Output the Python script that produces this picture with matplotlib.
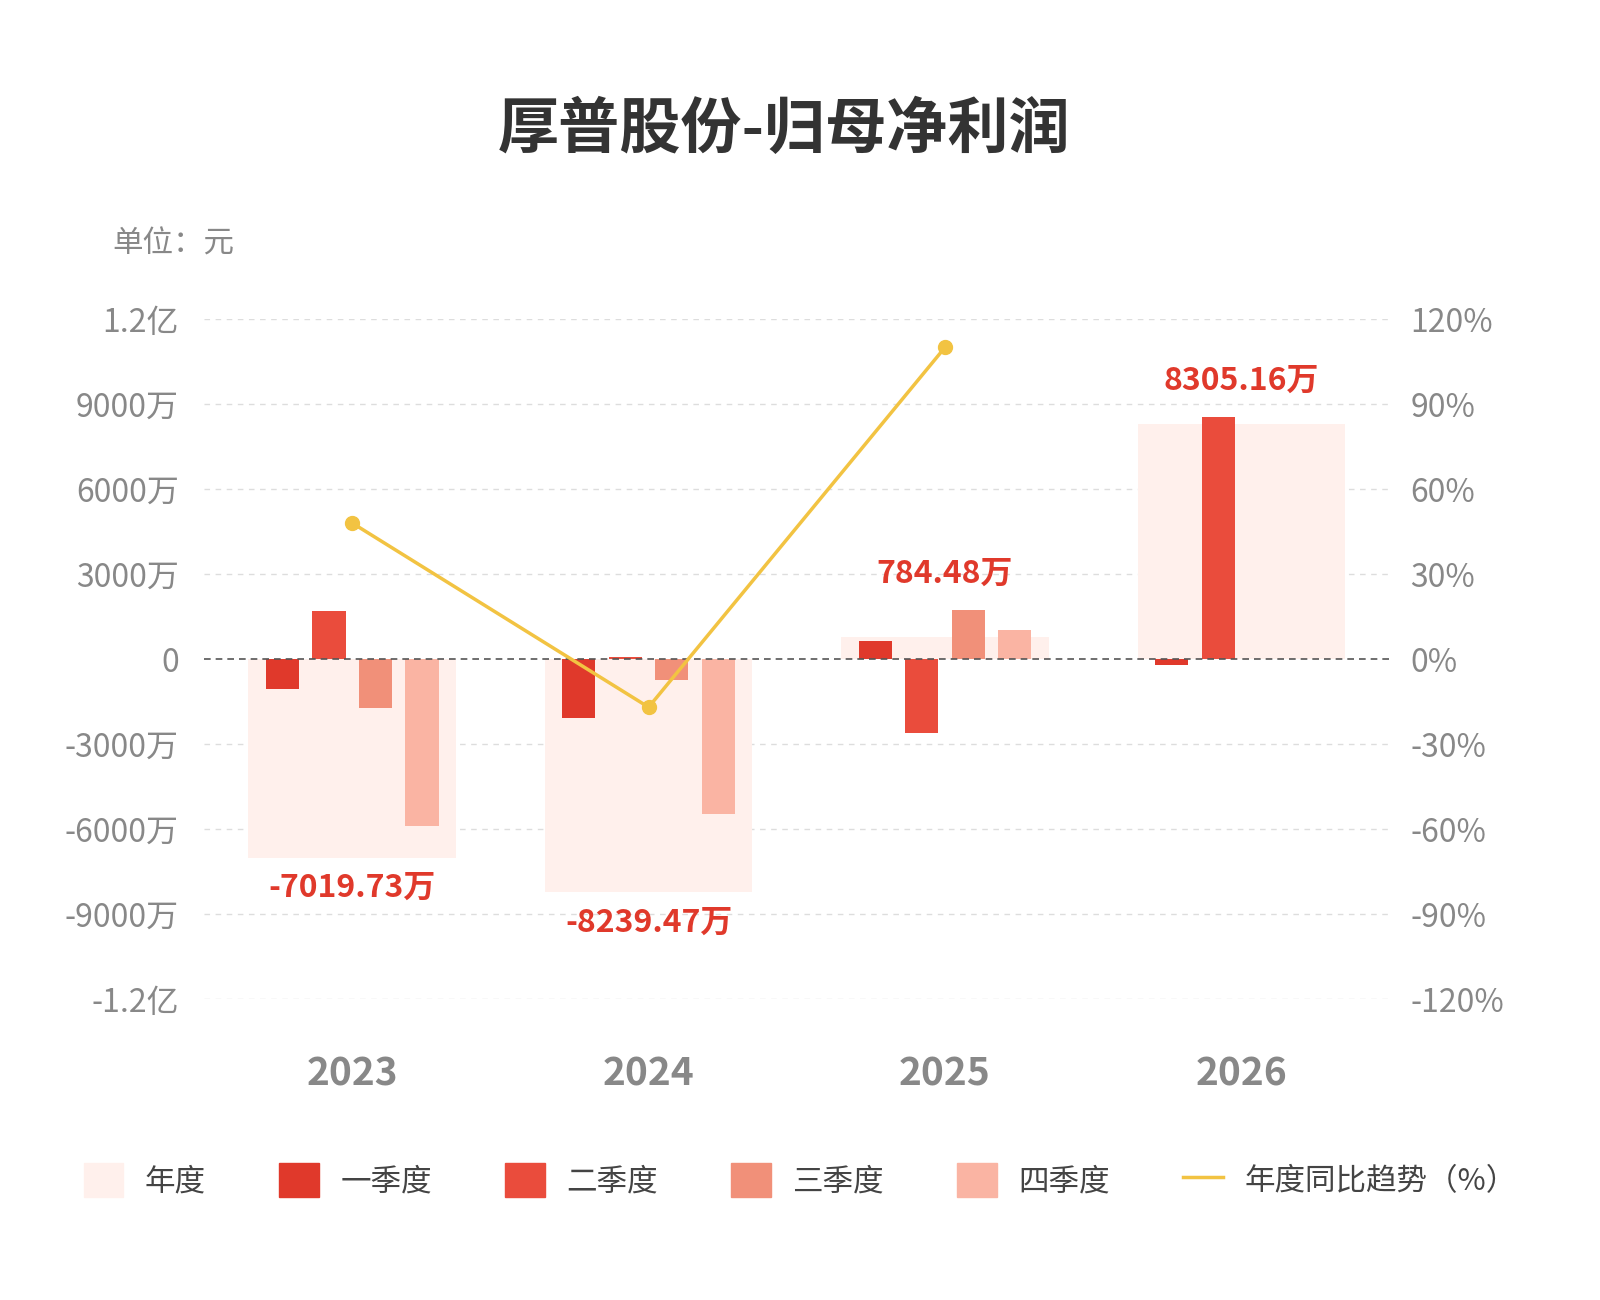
import matplotlib
matplotlib.use('Agg')
import matplotlib.pyplot as plt
import numpy as np
from matplotlib.patches import Patch
from matplotlib.lines import Line2D

plt.rcParams['font.family'] = ['Noto Sans CJK SC', 'DejaVu Sans']

years = ['2023', '2024', '2025', '2026']
annual = [-7019.73, -8239.47, 784.48, 8305.16]  # 万
q1 = [-1060, -2080, 640, -200]
q2 = [1700, 60, -2610, 8540]
q3 = [-1730, -740, 1730, np.nan]
q4 = [-5900, -5470, 1020, np.nan]
yoy = [48, -17, 110]
yoy_years = [0, 1, 2]
annual_labels = ['-7019.73万', '-8239.47万', '784.48万', '8305.16万']

c_year = '#fff0ec'
c_q = ['#e0392b', '#ea4c3c', '#f19079', '#fab4a3']
c_line = '#f2c342'
gray = '#888888'

fig = plt.figure(figsize=(16, 13), dpi=100)
ax = fig.add_axes([0.1275, 0.2315, 0.741, 0.5231])
x = np.arange(len(years))

ax.bar(x, annual, width=0.70, color=c_year, zorder=1)
qs = [q1, q2, q3, q4]
for i, q in enumerate(qs):
    ax.bar(x + (i - 1.5) * 0.157, q, width=0.112, color=c_q[i], zorder=2)

for j, (xi, v, lab) in enumerate(zip(x, annual, annual_labels)):
    vals = [v] + [q[j] for q in qs if not np.isnan(q[j])]
    if v > 0:
        ax.text(xi, max(vals) + 700, lab, ha='center', va='bottom',
                color='#e0392b', fontsize=23, fontweight='bold')
    else:
        ax.text(xi, v - 500, lab, ha='center', va='top',
                color='#e0392b', fontsize=23, fontweight='bold')

ax.set_xlim(-0.5, 3.5)
ax.set_ylim(-12000, 12000)
yt = np.arange(-12000, 12001, 3000)
ax.set_yticks(yt)
def fmt(v):
    if v == 0:
        return '0'
    if abs(v) >= 10000:
        return f'{v/10000:.1f}亿'
    return f'{v}万'
ax.set_yticklabels([fmt(v) for v in yt])
ax.set_xticks(x)
ax.set_xticklabels(years, fontsize=28, fontweight='bold', color=gray)
ax.tick_params(axis='x', length=0, pad=40)
ax.tick_params(axis='y', length=0, labelsize=23, labelcolor=gray, pad=18)
for s in ax.spines.values():
    s.set_visible(False)
for v in yt:
    if v != 0:
        ax.axhline(v, color='#dddddd', lw=1, ls=(0, (4, 4)), zorder=0)
ax.axhline(0, color='#555555', lw=1.2, ls=(0, (4, 3)), zorder=3)

ax2 = ax.twinx()
ax2.set_ylim(-120, 120)
ax2.set_yticks(np.arange(-120, 121, 30))
ax2.set_yticklabels([f'{v}%' for v in np.arange(-120, 121, 30)])
ax2.tick_params(axis='y', length=0, labelsize=23, labelcolor=gray, pad=15)
for s in ax2.spines.values():
    s.set_visible(False)
ax2.plot(yoy_years, yoy, color=c_line, lw=2.5, marker='o', ms=10, zorder=5)

fig.text(0.49, 0.9, '厚普股份-归母净利润', ha='center', va='center',
         fontsize=44, fontweight='bold', color='#333333')
fig.text(0.07, 0.812, '单位：元', fontsize=22, color=gray, va='center')

handles = [Patch(color=c_year)] + [Patch(color=c) for c in c_q] + \
          [Line2D([0], [0], color=c_line, lw=2.5)]
labels = ['年度', '一季度', '二季度', '三季度', '四季度', '年度同比趋势（%）']
fig.legend(handles, labels, loc='center', bbox_to_anchor=(0.5, 0.092), ncol=6,
           frameon=False, fontsize=22, labelcolor='#444444', handlelength=1.3,
           handleheight=1.3, columnspacing=2.4, handletextpad=0.7)

fig.savefig('out.png', dpi=100, facecolor='white')
